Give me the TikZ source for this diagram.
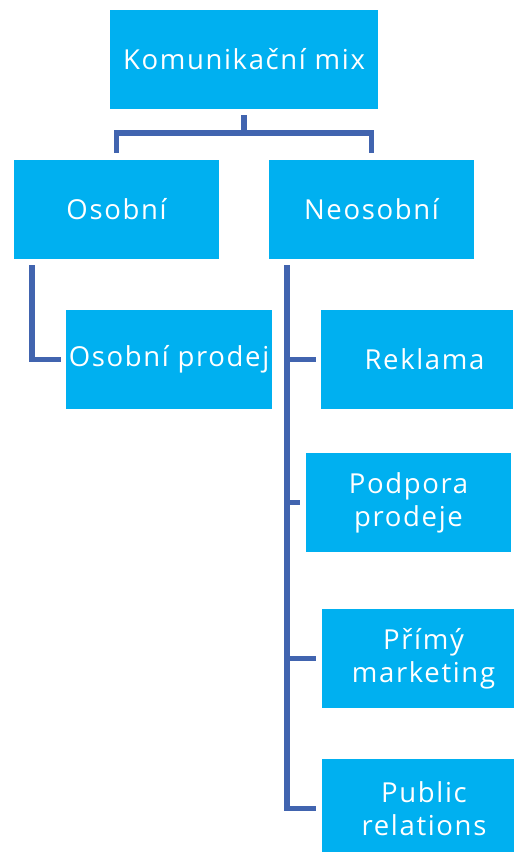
\documentclass[tikz,border=0pt]{standalone}
\usepackage{fontspec}
\setmainfont{Open Sans}[LetterSpace=6]
\begin{document}
\begin{tikzpicture}[x=1pt,y=-1pt,
  box/.style={fill=boxblue, draw=none, text=white, font=\fontsize{27.5}{33}\selectfont,
    align=center, inner sep=0pt},
  conn/.style={draw=linkblue, line width=5.5pt}]
\definecolor{boxblue}{RGB}{0,176,240}
\definecolor{linkblue}{RGB}{65,100,175}
\useasboundingbox (0,0) rectangle (514,852);
\clip (0,0) rectangle (514,852);

% hierarchy boxes
\node[box, minimum width=268pt, minimum height=99pt] (km) at (244,59.5) {Komunikační mix};
\node[box, minimum width=205pt, minimum height=99pt] (os) at (116.5,209.5) {Osobní};
\node[box, minimum width=205pt, minimum height=99pt] (neo) at (371.5,209.5) {Neosobní};
\node[box, minimum width=206pt, minimum height=99pt] (op) at (169,359.5) {Osobní prodej};
\node[box, minimum width=192pt, minimum height=99pt] (rek) at (417,359.5) {\hspace*{15pt}Reklama};
\node[box, minimum width=205pt, minimum height=99pt] (pp) at (408.5,502.5) {Podpora\\prodeje};
\node[box, minimum width=192pt, minimum height=99pt] (pm) at (418,658.5) {\hspace*{11pt}Přímý\\\hspace*{11pt}marketing};
\node[box, minimum width=192pt, minimum height=99pt] (pr) at (418,808.5) {\hspace*{12pt}Public\\\hspace*{12pt}relations};

% top-level bracket
\draw[conn] ([yshift=-6pt]km.south) -- ([yshift=-24pt]km.south);
\draw[conn] ([yshift=7pt]os.north) -- ++(0,-20) -| ([yshift=7pt]neo.north);

% personal branch
\draw[conn] ([xshift=-84.5pt,yshift=-6pt]os.south) |- ([xshift=-5pt]op.west);

% impersonal branch: trunk with ticks
\coordinate (trunk) at ([xshift=-84.5pt,yshift=-6pt]neo.south);
\draw[conn] (trunk) |- ([xshift=-6pt]pr.west);
\draw[conn] ([xshift=-5pt]rek.west) -- (rek.west -| trunk);
\draw[conn] ([xshift=-6pt]pp.west) -- (pp.west -| trunk);
\draw[conn] ([xshift=-6pt]pm.west) -- (pm.west -| trunk);
\end{tikzpicture}
\end{document}
